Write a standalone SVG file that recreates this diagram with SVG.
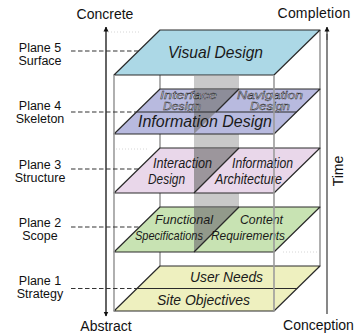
<svg xmlns="http://www.w3.org/2000/svg" width="355" height="336" viewBox="0 0 355 336">
  <style>
    .lbl { font-family: "Liberation Sans", Arial, sans-serif; font-size: 12.5px; fill: #111; text-anchor: middle; }
    .axis { font-family: "Liberation Sans", Arial, sans-serif; font-size: 14px; fill: #111; text-anchor: middle; }
    .pt { font-family: "Liberation Sans Narrow", "Liberation Sans", Arial, sans-serif; font-style: italic; fill: #1a1a1a; }
    .hollow { fill: #e4e4f4; stroke: #2a2a2a; stroke-width: 0.45; }
    .plane { stroke: #2a2a2a; stroke-width: 1.2; stroke-linejoin: round; }
    .edge { stroke: #2a2a2a; stroke-width: 1.2; fill: none; }
    .post { stroke: #9c9c9c; stroke-width: 1.6; fill: none; }
    .slab { fill: #7a7a7a; fill-opacity: 0.7; }
    .dash { stroke: #333; stroke-width: 1.2; stroke-dasharray: 4.5 2.5; fill: none; }
    .faint { stroke: #d6d6d6; stroke-width: 1; stroke-dasharray: 1 2; fill: none; }
  </style>
  <defs>
    <marker id="head" viewBox="0 0 10 10" refX="9" refY="5" markerWidth="5" markerHeight="7" markerUnits="userSpaceOnUse" orient="auto">
      <path d="M0,0 L10,5 L0,10 Z" fill="#111"/>
    </marker>
  </defs>

  <rect width="355" height="336" fill="#fff"/>

  <!-- faint guide dots -->
  <g id="guides">
    <line class="faint" x1="108" y1="32" x2="140" y2="32"/>
    <line class="faint" x1="116" y1="149" x2="148" y2="149"/>
    <line class="faint" x1="283" y1="252" x2="318" y2="252"/>
  </g>

  <!-- rear posts of the box -->
  <g id="rear-posts">
    <line class="post" x1="160" y1="75" x2="160" y2="266"/>
    <line class="post" x1="320" y1="30" x2="320" y2="266"/>
  </g>

  <!-- vertical slab between the planes -->
  <rect id="slab" x="194" y="76" width="45" height="174" fill="#c9c9c9"/>

  <!-- Plane 1: Strategy -->
  <g id="plane1">
    <polygon class="plane" points="160,266 320,266 274,311 114,311" fill="#eef0bf"/>
    <line class="edge" x1="137.5" y1="288.5" x2="297.5" y2="288.5"/>
    <text class="pt" x="190" y="282" font-size="15" textLength="73" lengthAdjust="spacingAndGlyphs">User Needs</text>
    <text class="pt" x="157" y="304.5" font-size="15" textLength="93" lengthAdjust="spacingAndGlyphs">Site Objectives</text>
  </g>

  <!-- Plane 2: Scope -->
  <g id="plane2">
    <polygon class="plane" points="160,207 320,207 274,252 114,252" fill="#c8e3b3"/>
    <polygon class="slab" points="194,207 239,207 194,252"/>
    <line class="edge" x1="239" y1="207" x2="194" y2="252"/>
    <text class="pt" x="155" y="224" font-size="13" textLength="58" lengthAdjust="spacingAndGlyphs">Functional</text>
    <text class="pt" x="135" y="240" font-size="13" textLength="68" lengthAdjust="spacingAndGlyphs">Specifications</text>
    <text class="pt" x="240" y="224" font-size="13" textLength="43" lengthAdjust="spacingAndGlyphs">Content</text>
    <text class="pt" x="211" y="239.5" font-size="13" textLength="74" lengthAdjust="spacingAndGlyphs">Requirements</text>
  </g>

  <!-- Plane 3: Structure -->
  <g id="plane3">
    <polygon class="plane" points="160,148 320,148 274,193 114,193" fill="#e9d7ea"/>
    <polygon class="slab" points="194,148 239,148 194,193"/>
    <line class="edge" x1="239" y1="148" x2="194" y2="193"/>
    <text class="pt" x="153" y="168" font-size="14" textLength="59" lengthAdjust="spacingAndGlyphs">Interaction</text>
    <text class="pt" x="148" y="183.5" font-size="14" textLength="37" lengthAdjust="spacingAndGlyphs">Design</text>
    <text class="pt" x="232" y="168" font-size="14" textLength="61" lengthAdjust="spacingAndGlyphs">Information</text>
    <text class="pt" x="215" y="183.5" font-size="14" textLength="67" lengthAdjust="spacingAndGlyphs">Architecture</text>
  </g>

  <!-- Plane 4: Skeleton -->
  <g id="plane4">
    <polygon class="plane" points="160,89 320,89 274,134 114,134" fill="#b8badf"/>
    <polygon class="slab" points="194,89 239,89 194,134"/>
    <line class="edge" x1="239" y1="89" x2="216" y2="112"/>
    <line class="edge" x1="136.5" y1="112" x2="296.5" y2="112"/>
    <text class="pt hollow" x="160" y="98.5" font-size="11" textLength="57" lengthAdjust="spacingAndGlyphs">Interface</text>
    <text class="pt hollow" x="163" y="109.5" font-size="11" textLength="38" lengthAdjust="spacingAndGlyphs">Design</text>
    <text class="pt hollow" x="237" y="98.5" font-size="11" textLength="66" lengthAdjust="spacingAndGlyphs">Navigation</text>
    <text class="pt hollow" x="250" y="109.5" font-size="11" textLength="40" lengthAdjust="spacingAndGlyphs">Design</text>
    <text class="pt" x="138" y="127" font-size="16" textLength="134" lengthAdjust="spacingAndGlyphs">Information Design</text>
  </g>

  <!-- Plane 5: Surface -->
  <g id="plane5">
    <polygon class="plane" points="160,30 320,30 274,75 114,75" fill="#acd8e6"/>
    <text class="pt" x="168" y="58" font-size="17" textLength="95" lengthAdjust="spacingAndGlyphs">Visual Design</text>
  </g>

  <!-- front posts of the box -->
  <g id="front-posts">
    <line class="post" x1="114" y1="75" x2="114" y2="311"/>
    <line class="post" x1="274" y1="75" x2="274" y2="311"/>
  </g>

  <!-- connectors: axes and plane leaders -->
  <g id="connectors">
    <line x1="106" y1="40" x2="106" y2="302" stroke="#111" stroke-width="1.3"/>
    <line x1="106" y1="40" x2="106" y2="27" stroke="#111" stroke-width="1.3" marker-end="url(#head)"/>
    <line x1="106" y1="302" x2="106" y2="316" stroke="#111" stroke-width="1.3" marker-end="url(#head)"/>
    <line x1="327" y1="314" x2="327" y2="34" stroke="#555" stroke-width="1.4"/>
    <line x1="327" y1="40" x2="327" y2="27" stroke="#555" stroke-width="1.4" marker-end="url(#head)"/>
    <line class="dash" x1="71" y1="51" x2="138.5" y2="51"/>
    <line class="dash" x1="71" y1="112" x2="136.5" y2="112"/>
    <line class="dash" x1="71" y1="169" x2="138.5" y2="169"/>
    <line class="dash" x1="71" y1="227" x2="139.5" y2="227"/>
    <line class="dash" x1="71" y1="288.5" x2="137.5" y2="288.5"/>
  </g>

  <!-- axis labels -->
  <g id="axis-labels">
    <text class="axis" x="105" y="19">Concrete</text>
    <text class="axis" x="106" y="331">Abstract</text>
    <text class="axis" x="314" y="18" letter-spacing="0.2">Completion</text>
    <text class="axis" x="318.5" y="329.5">Conception</text>
    <text class="axis" transform="translate(342.5,171) rotate(-90)">Time</text>
  </g>

  <!-- plane labels -->
  <g id="plane-labels">
    <text class="lbl" x="40" y="51.5">Plane 5</text>
    <text class="lbl" x="40" y="65">Surface</text>
    <text class="lbl" x="40" y="109.5">Plane 4</text>
    <text class="lbl" x="40" y="123">Skeleton</text>
    <text class="lbl" x="40" y="168.5">Plane 3</text>
    <text class="lbl" x="40" y="182">Structure</text>
    <text class="lbl" x="40" y="226.5">Plane 2</text>
    <text class="lbl" x="40" y="240">Scope</text>
    <text class="lbl" x="40" y="284.5">Plane 1</text>
    <text class="lbl" x="40" y="298">Strategy</text>
  </g>
</svg>
